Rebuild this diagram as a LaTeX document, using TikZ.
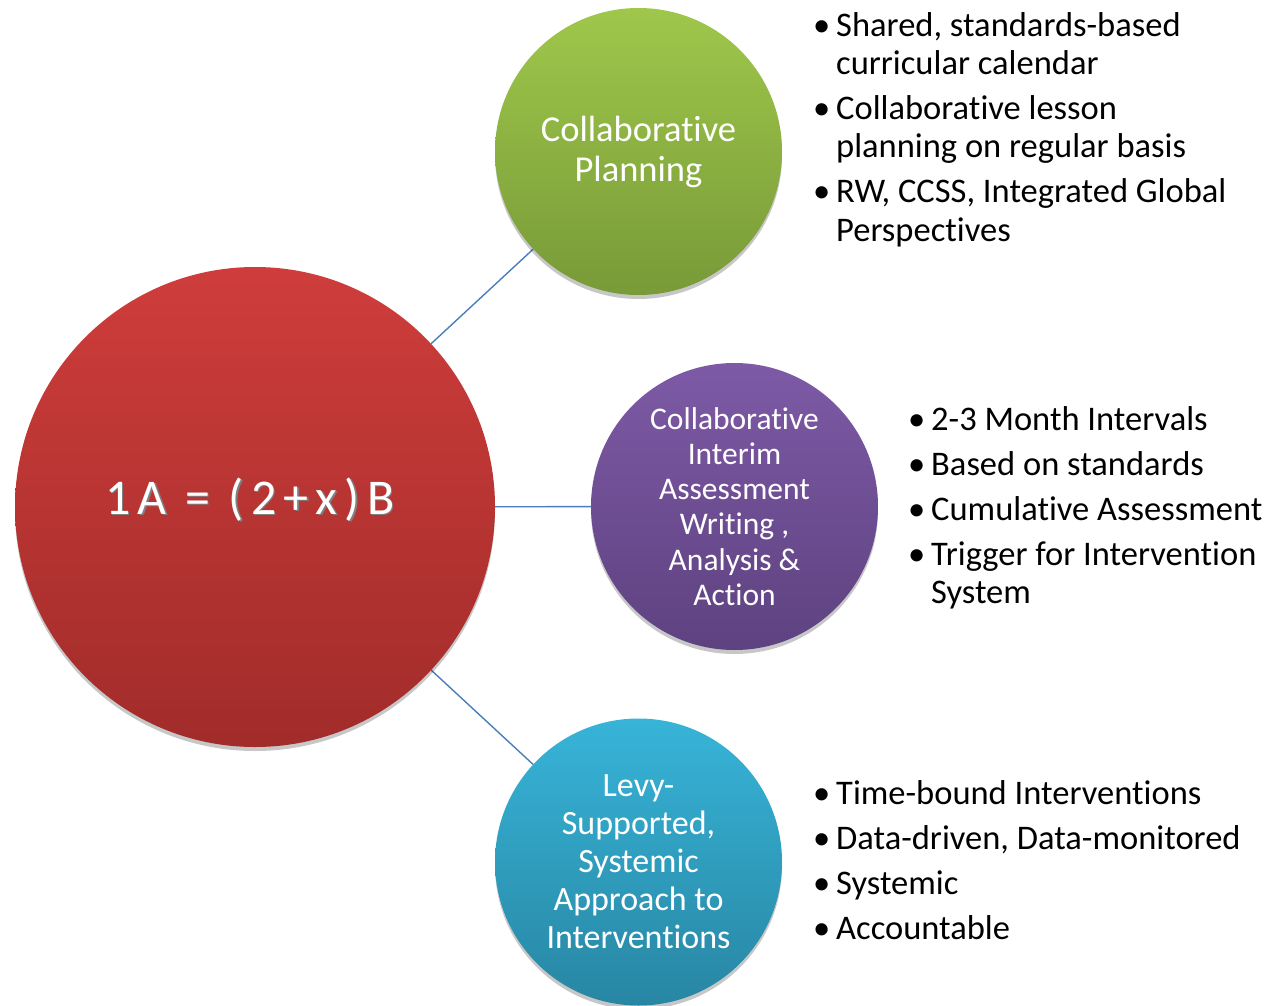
\documentclass[tikz,border=0pt]{standalone}
\usepackage{fontspec}
\setmainfont{Carlito}[Ligatures={NoCommon,NoRare,NoContextual},Contextuals={NoAlternate}]
\usetikzlibrary{shadows,backgrounds}
\newcommand{\nolig}{\kern0pt }
\definecolor{redT}{HTML}{CE3D3B}
\definecolor{redB}{HTML}{A12C2A}
\definecolor{grnT}{HTML}{9FC74B}
\definecolor{grnB}{HTML}{789A38}
\definecolor{purT}{HTML}{7E5AA6}
\definecolor{purB}{HTML}{5E4280}
\definecolor{bluT}{HTML}{37B4D8}
\definecolor{bluB}{HTML}{2886A3}
\definecolor{linkc}{HTML}{4A7EBB}
\begin{document}
\begin{tikzpicture}[x=1pt,y=-1pt,
  ball/.style={circle, inner sep=0pt, align=center, text=white,
    drop shadow={shadow xshift=0pt, shadow yshift=-4pt, opacity=0.22, fill=black}},
  bigball/.style={ball, minimum size=480pt, top color=redT, bottom color=redB},
  smallball/.style={ball, minimum size=287pt},
  link/.style={draw=linkc, line width=1.4pt},
  item/.style={anchor=base west, inner sep=0pt, font=\fontsize{34.5}{38}\selectfont, text=black},
  eqfont/.style={anchor=base west, inner sep=0pt, font=\fontsize{50}{54}\selectfont\addfontfeatures{LetterSpace=14.5}},
]
\useasboundingbox (0,0) rectangle (1267,1006);

% circles
\node[bigball] (main) at (255,507) {};
\node[eqfont, text=black!50] (mainshadow) at (106.5,515.5) {1A = (2+x)B};
\node[eqfont, text=white] (maintext) at (105,514) {1A = (2+x)B};

\node[smallball, top color=grnT, bottom color=grnB,
  font=\fontsize{36.5}{40}\selectfont] (plan) at (638.5,151.5) {Collaborat\nolig ive\\Planning};
\node[smallball, top color=purT, bottom color=purB,
  font=\fontsize{31.5}{35.2}\selectfont] (assess) at (734.5,506.5) {Collaborat\nolig ive\\Interim\\Assessment\\Writing ,\\Analysis \&\\Act\nolig ion};
\node[smallball, top color=bluT, bottom color=bluB,
  font=\fontsize{34}{38}\selectfont] (interv) at (638.5,862) {Levy-\\Supported,\\Systemic\\Approach to\\Intervent\nolig ions};

% connectors
\begin{scope}[on background layer]
\draw[link] (main) -- (plan);
\draw[link] (main) -- (assess);
\draw[link] (main) -- (interv);
\end{scope}

% top list
\node[item] (b1) at (813,37) {•};
\node[item] (t1a) at (836,37) {Shared, standards-based};
\node[item] (t1b) at (836,75) {curricular calendar};
\node[item] (b2) at (813,120) {•};
\node[item] (t2a) at (836,120) {Collaborat\nolig ive lesson};
\node[item] (t2b) at (836,158) {planning on regular basis};
\node[item] (b3) at (813,203) {•};
\node[item] (t3a) at (836,203) {RW, CCSS, Integrated Global};
\node[item] (t3b) at (836,241) {Perspect\nolig ives};

% middle list
\node[item] (m1b) at (908,430) {•};
\node[item] (m1) at (931,430) {2-3 Month Intervals};
\node[item] (m2b) at (908,475) {•};
\node[item] (m2) at (931,475) {Based on standards};
\node[item] (m3b) at (908,520) {•};
\node[item] (m3) at (931,520) {Cumulat\nolig ive Assessment};
\node[item] (m4b) at (908,565) {•};
\node[item] (m4) at (931,565) {Trigger for Intervent\nolig ion};
\node[item] (m4c) at (931,603) {System};

% bottom list
\node[item] (n1b) at (813,804) {•};
\node[item] (n1) at (836,804) {Time-bound Intervent\nolig ions};
\node[item] (n2b) at (813,849) {•};
\node[item] (n2) at (836,849) {Data-driven, Data-monitored};
\node[item] (n3b) at (813,894) {•};
\node[item] (n3) at (836,894) {Systemic};
\node[item] (n4b) at (813,939) {•};
\node[item] (n4) at (836,939) {Accountable};
\end{tikzpicture}
\end{document}
